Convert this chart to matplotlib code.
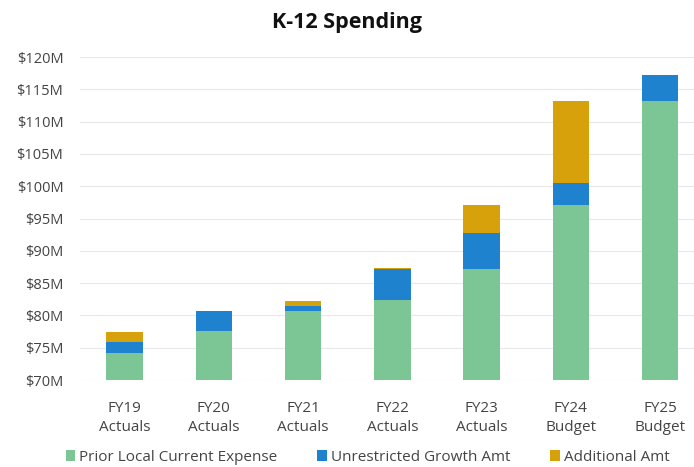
import matplotlib.pyplot as plt
import numpy as np
from matplotlib.ticker import FuncFormatter

# values in $M
categories = ['FY19\nActuals', 'FY20\nActuals', 'FY21\nActuals', 'FY22\nActuals',
              'FY23\nActuals', 'FY24\nBudget', 'FY25\nBudget']
prior_local = [74.2, 77.6, 80.7, 82.4, 87.2, 97.1, 113.2]
unrestricted = [1.7, 3.1, 0.8, 4.8, 5.6, 3.4, 4.0]
additional = [1.5, 0.0, 0.7, 0.2, 4.3, 12.7, 0.0]

series_names = ['Prior Local Current Expense', 'Unrestricted Growth Amt', 'Additional Amt']
colors = ['#7cc595', '#1f82cf', '#d6a10a']

plt.rcParams['font.family'] = ['Open Sans', 'DejaVu Sans']

fig = plt.figure(figsize=(6.94, 4.67), dpi=100)
ax = fig.add_axes([80 / 694, 1 - 380 / 467, 1 - 80 / 694, (380 - 57) / 467])

x = np.arange(len(categories))
base = 70
width = 0.41
bottom = np.array([0.0] * len(categories))
for vals, name, col in zip([prior_local, unrestricted, additional], series_names, colors):
    vals = np.array(vals)
    if name == series_names[0]:
        heights = vals - base
        ax.bar(x, heights, width, bottom=base, color=col, label=name, zorder=3)
        bottom = vals.copy()
    else:
        ax.bar(x, vals, width, bottom=bottom, color=col, label=name, zorder=3)
        bottom = bottom + vals

ax.set_ylim(70, 120)
ax.set_yticks(np.arange(70, 121, 5))
ax.yaxis.set_major_formatter(FuncFormatter(lambda v, p: f'${v:.0f}M'))
ax.set_xlim(-0.5, 6.38)
ax.set_xticks(x)
ax.set_xticklabels(categories, fontsize=11, color='#444444', linespacing=1.35)
ax.tick_params(axis='y', labelsize=10.5, colors='#444444', length=0, pad=12)
ax.tick_params(axis='x', length=0, pad=15)
ax.grid(axis='y', color='#e8e8e8', linewidth=0.8, zorder=0)
for s in ax.spines.values():
    s.set_visible(False)

fig.suptitle('K-12 Spending', x=0.5, y=0.975, fontsize=15.5, fontweight='bold', color='#111111')

fig.legend(loc='lower center', bbox_to_anchor=(0.53, -0.025), ncol=3, frameon=False,
           fontsize=11, handlelength=0.6, handleheight=0.8, handletextpad=0.3,
           columnspacing=2.6, labelcolor='#444444')

fig.savefig('out.png', dpi=100)
